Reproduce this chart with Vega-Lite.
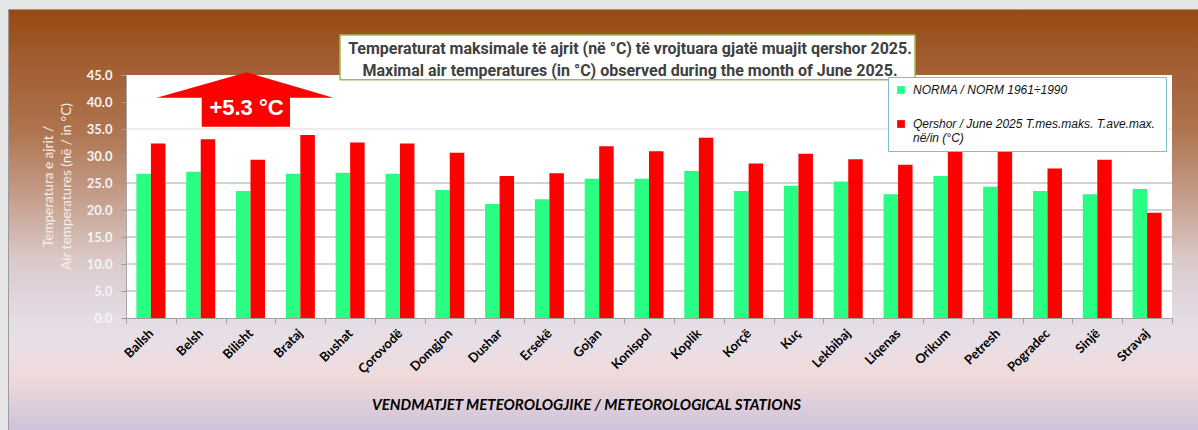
{
  "$schema": "https://vega.github.io/schema/vega-lite/v6.json",
  "width": 1190,
  "height": 421,
  "autosize": {"type": "none"},
  "padding": {"left": 8, "top": 9, "right": 0, "bottom": 0},
  "background": "#e6e6e6",
  "view": {
    "fill": {
      "gradient": "linear", "x1": 0, "y1": 0, "x2": 0, "y2": 1,
      "stops": [
        {"offset": 0, "color": "#984a10"},
        {"offset": 0.121, "color": "#a25c30"},
        {"offset": 0.287, "color": "#ae744f"},
        {"offset": 0.454, "color": "#c6a08e"},
        {"offset": 0.596, "color": "#dacac9"},
        {"offset": 0.734, "color": "#e4dce6"},
        {"offset": 0.798, "color": "#e8dfe6"},
        {"offset": 0.869, "color": "#f0dada"},
        {"offset": 1, "color": "#cfc3dc"}
      ]
    },
    "stroke": "#9a9a9a",
    "strokeWidth": 1
  },
  "resolve": {"scale": {"x": "independent"}},
  "layer": [
    {
      "layer": [
        {
          "data": {"values": [{"part": "plot area"}]},
          "mark": {"type": "rect", "fill": "#ffffff"},
          "encoding": {
            "x": {"datum": 0, "type": "quantitative", "scale": {"domain": [0, 1], "range": [118, 1164]}, "axis": null},
            "x2": {"datum": 1},
            "y": {"datum": 45, "type": "quantitative", "scale": {"domain": [0, 45], "range": [309, 66], "nice": false}},
            "y2": {"datum": 0}
          }
        },
        {
          "data": {"values": [{"g": 5}, {"g": 10}, {"g": 15}, {"g": 20}, {"g": 25}, {"g": 35}]},
          "mark": {"type": "rule", "strokeWidth": 1},
          "encoding": {
            "x": {"datum": 0, "type": "quantitative"},
            "x2": {"datum": 1},
            "y": {"field": "g", "type": "quantitative"},
            "color": {"condition": {"test": "datum.g == 35", "value": "#d9d9d9"}, "value": "#a6a6a6"}
          }
        },
        {
          "data": {"values": [{"part": "title box"}]},
          "mark": {"type": "rect", "fill": "#ffffff", "stroke": "#9bbb59", "strokeWidth": 1.5},
          "encoding": {
            "x": {"datum": 0.2046, "type": "quantitative"},
            "x2": {"datum": 0.7543},
            "y": {"datum": 52.4, "type": "quantitative"},
            "y2": {"datum": 44.1}
          }
        }
      ]
    },
    {
      "data": {
        "values": [
          {"station": "Ballsh", "series": "NORMA / NORM 1961÷1990", "value": 26.7},
          {"station": "Ballsh", "series": "Qershor / June 2025  T.mes.maks. T.ave.max. në/in (°C)", "value": 32.3},
          {"station": "Belsh", "series": "NORMA / NORM 1961÷1990", "value": 27.1},
          {"station": "Belsh", "series": "Qershor / June 2025  T.mes.maks. T.ave.max. në/in (°C)", "value": 33.1},
          {"station": "Bilisht", "series": "NORMA / NORM 1961÷1990", "value": 23.5},
          {"station": "Bilisht", "series": "Qershor / June 2025  T.mes.maks. T.ave.max. në/in (°C)", "value": 29.3},
          {"station": "Brataj", "series": "NORMA / NORM 1961÷1990", "value": 26.7},
          {"station": "Brataj", "series": "Qershor / June 2025  T.mes.maks. T.ave.max. në/in (°C)", "value": 33.9},
          {"station": "Bushat", "series": "NORMA / NORM 1961÷1990", "value": 26.9},
          {"station": "Bushat", "series": "Qershor / June 2025  T.mes.maks. T.ave.max. në/in (°C)", "value": 32.5},
          {"station": "Çorovodë", "series": "NORMA / NORM 1961÷1990", "value": 26.7},
          {"station": "Çorovodë", "series": "Qershor / June 2025  T.mes.maks. T.ave.max. në/in (°C)", "value": 32.3},
          {"station": "Domgjon", "series": "NORMA / NORM 1961÷1990", "value": 23.7},
          {"station": "Domgjon", "series": "Qershor / June 2025  T.mes.maks. T.ave.max. në/in (°C)", "value": 30.6},
          {"station": "Dushar", "series": "NORMA / NORM 1961÷1990", "value": 21.1},
          {"station": "Dushar", "series": "Qershor / June 2025  T.mes.maks. T.ave.max. në/in (°C)", "value": 26.3},
          {"station": "Ersekë", "series": "NORMA / NORM 1961÷1990", "value": 22.0},
          {"station": "Ersekë", "series": "Qershor / June 2025  T.mes.maks. T.ave.max. në/in (°C)", "value": 26.8},
          {"station": "Gojan", "series": "NORMA / NORM 1961÷1990", "value": 25.8},
          {"station": "Gojan", "series": "Qershor / June 2025  T.mes.maks. T.ave.max. në/in (°C)", "value": 31.8},
          {"station": "Konispol", "series": "NORMA / NORM 1961÷1990", "value": 25.8},
          {"station": "Konispol", "series": "Qershor / June 2025  T.mes.maks. T.ave.max. në/in (°C)", "value": 30.9},
          {"station": "Koplik", "series": "NORMA / NORM 1961÷1990", "value": 27.2},
          {"station": "Koplik", "series": "Qershor / June 2025  T.mes.maks. T.ave.max. në/in (°C)", "value": 33.4},
          {"station": "Korçë", "series": "NORMA / NORM 1961÷1990", "value": 23.5},
          {"station": "Korçë", "series": "Qershor / June 2025  T.mes.maks. T.ave.max. në/in (°C)", "value": 28.6},
          {"station": "Kuç", "series": "NORMA / NORM 1961÷1990", "value": 24.5},
          {"station": "Kuç", "series": "Qershor / June 2025  T.mes.maks. T.ave.max. në/in (°C)", "value": 30.4},
          {"station": "Lekbibaj", "series": "NORMA / NORM 1961÷1990", "value": 25.3},
          {"station": "Lekbibaj", "series": "Qershor / June 2025  T.mes.maks. T.ave.max. në/in (°C)", "value": 29.4},
          {"station": "Liqenas", "series": "NORMA / NORM 1961÷1990", "value": 22.9},
          {"station": "Liqenas", "series": "Qershor / June 2025  T.mes.maks. T.ave.max. në/in (°C)", "value": 28.4},
          {"station": "Orikum", "series": "NORMA / NORM 1961÷1990", "value": 26.3},
          {"station": "Orikum", "series": "Qershor / June 2025  T.mes.maks. T.ave.max. në/in (°C)", "value": 33.0},
          {"station": "Petresh", "series": "NORMA / NORM 1961÷1990", "value": 24.3},
          {"station": "Petresh", "series": "Qershor / June 2025  T.mes.maks. T.ave.max. në/in (°C)", "value": 31.5},
          {"station": "Pogradec", "series": "NORMA / NORM 1961÷1990", "value": 23.5},
          {"station": "Pogradec", "series": "Qershor / June 2025  T.mes.maks. T.ave.max. në/in (°C)", "value": 27.7},
          {"station": "Sinjë", "series": "NORMA / NORM 1961÷1990", "value": 22.9},
          {"station": "Sinjë", "series": "Qershor / June 2025  T.mes.maks. T.ave.max. në/in (°C)", "value": 29.3},
          {"station": "Stravaj", "series": "NORMA / NORM 1961÷1990", "value": 23.9},
          {"station": "Stravaj", "series": "Qershor / June 2025  T.mes.maks. T.ave.max. në/in (°C)", "value": 19.5}
        ]
      },
      "layer": [
        {
          "mark": {"type": "bar"},
          "encoding": {
            "x": {
              "field": "station", "type": "nominal",
              "scale": {
                "domain": ["Ballsh", "Belsh", "Bilisht", "Brataj", "Bushat", "Çorovodë", "Domgjon", "Dushar", "Ersekë", "Gojan", "Konispol", "Koplik", "Korçë", "Kuç", "Lekbibaj", "Liqenas", "Orikum", "Petresh", "Pogradec", "Sinjë", "Stravaj"],
                "range": [118, 1164], "paddingInner": 0, "paddingOuter": 0
              },
              "axis": {
                "orient": "bottom",
                "title": "VENDMATJET  METEOROLOGJIKE / METEOROLOGICAL STATIONS",
                "offset": -112,
                "zindex": 1,
                "grid": false,
                "tickBand": "extent",
                "tickSize": 5,
                "tickColor": "#a0a0a0",
                "domainColor": "#a0a0a0",
                "labelAngle": -45,
                "labelAlign": "right",
                "labelBaseline": "middle",
                "labelPadding": 8,
                "labelFont": "Lato",
                "labelFontWeight": "bold",
                "labelFontSize": 13,
                "labelColor": "#000000",
                "titleFont": "Lato",
                "titleFontStyle": "italic",
                "titleFontWeight": "bold",
                "titleFontSize": 15,
                "titleColor": "#000000",
                "titleX": 578,
                "titleY": 86,
                "titleBaseline": "middle"
              }
            },
            "xOffset": {
              "field": "series", "type": "nominal",
              "scale": {"domain": ["NORMA / NORM 1961÷1990", "Qershor / June 2025  T.mes.maks. T.ave.max. në/in (°C)"], "paddingInner": 0, "paddingOuter": 0.717}
            },
            "y": {
              "field": "value", "type": "quantitative",
              "scale": {"domain": [0, 45], "range": [309, 66], "nice": false},
              "axis": {
                "orient": "left",
                "title": ["Temperatura e ajrit /", "Air temperatures (në / in °C)"],
                "offset": -118,
                "zindex": 1,
                "grid": false,
                "values": [0, 5, 10, 15, 20, 25, 30, 35, 40, 45],
                "format": ".1f",
                "tickSize": 5,
                "tickColor": "#9a9a9a",
                "domainColor": "#a6a6a6",
                "labelFont": "Lato",
                "labelFontWeight": "bold",
                "labelFontSize": 13,
                "labelColor": "#f4f4f4",
                "labelPadding": 9,
                "titleFont": "Lato",
                "titleFontWeight": "normal",
                "titleFontSize": 13.5,
                "titleColor": "#f7efe9",
                "titlePadding": 13,
                "titleLineHeight": 18,
                "titleY": 177
              }
            },
            "color": {
              "field": "series", "type": "nominal",
              "scale": {"domain": ["NORMA / NORM 1961÷1990", "Qershor / June 2025  T.mes.maks. T.ave.max. në/in (°C)"], "range": ["#29fd84", "#ff0000"]},
              "legend": {
                "title": null,
                "orient": "none",
                "legendX": 880,
                "legendY": 68,
                "symbolType": "square",
                "symbolSize": 60,
                "symbolStrokeWidth": 0,
                "labelFont": "Liberation Sans",
                "labelFontStyle": "italic",
                "labelFontSize": 12,
                "labelColor": "#111111",
                "labelLimit": 400,
                "labelOffset": 6,
                "labelExpr": "indexof(datum.label, 'në/in') > 0 ? ['Qershor / June 2025  T.mes.maks. T.ave.max.', 'në/in (°C)'] : datum.label",
                "fillColor": "#ffffff",
                "strokeColor": "#79bfd6",
                "padding": 7,
                "rowPadding": 22
              }
            }
          }
        },
        {
          "data": {"values": [{"note": "+5.3 °C"}]},
          "mark": {
            "type": "point",
            "shape": "M -3.8 -29.7 L 82.8 -4.3 L 39.5 -4.3 L 39.5 24.7 L -48.8 24.7 L -48.8 -4.3 L -93.8 -4.3 Z",
            "size": 4,
            "filled": true,
            "fill": "#ff0000",
            "opacity": 1,
            "strokeWidth": 0
          },
          "encoding": {
            "x": {"datum": "Bilisht", "type": "nominal"},
            "y": {"datum": 40, "type": "quantitative"}
          }
        },
        {
          "data": {"values": [{"note": "+5.3 °C"}]},
          "mark": {"type": "text", "font": "Liberation Sans", "fontWeight": "bold", "fontSize": 22, "color": "#ffffff", "baseline": "middle", "align": "center", "dx": -4},
          "encoding": {
            "x": {"datum": "Bilisht", "type": "nominal"},
            "y": {"datum": 38.9, "type": "quantitative"},
            "text": {"field": "note"}
          }
        },
        {
          "data": {"values": [{"part": "title"}]},
          "mark": {"type": "text", "font": "Roboto, Liberation Sans, sans-serif", "fontWeight": "bold", "fontSize": 16, "color": "#404040", "baseline": "middle", "align": "center", "dx": -19, "lineHeight": 22},
          "encoding": {
            "x": {"datum": "Konispol", "type": "nominal"},
            "y": {"datum": 49.9, "type": "quantitative"},
            "text": {"value": ["Temperaturat maksimale të ajrit (në °C) të vrojtuara gjatë muajit qershor 2025.", "Maximal air temperatures (in °C) observed during the month of June 2025."]}
          }
        }
      ]
    }
  ]
}
